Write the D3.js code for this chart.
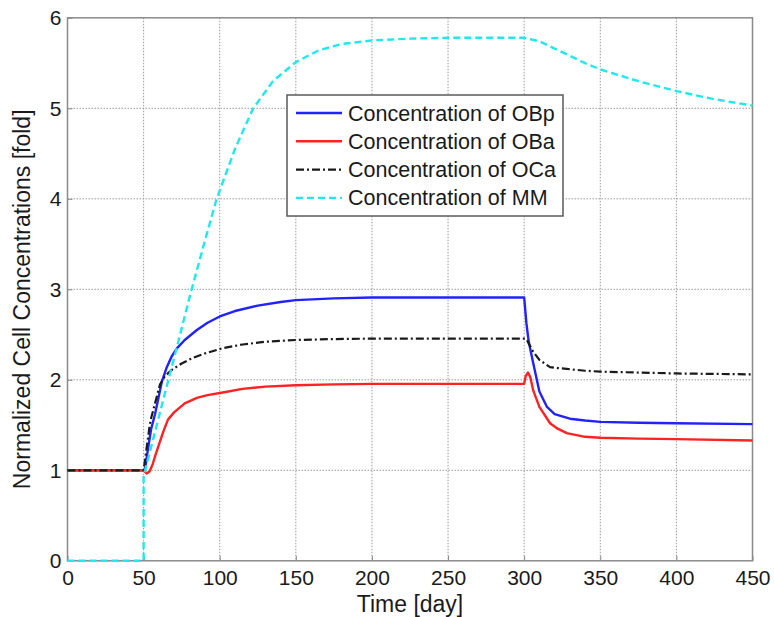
<!DOCTYPE html>
<html>
<head>
<meta charset="utf-8">
<script src="https://cdn.jsdelivr.net/npm/d3@7"></script>
<style>
  html, body { margin: 0; padding: 0; background: #fff; }
  svg { display: block; font-family: "Liberation Sans", Arial, Helvetica, sans-serif; }
</style>
</head>
<body>
<svg id="chart" width="774" height="617"></svg>
<script>
// ---- data ----
const xTicks = [0, 50, 100, 150, 200, 250, 300, 350, 400, 450];
const yTicks = [0, 1, 2, 3, 4, 5, 6];

const timeOBp = [0,50,51,53,55,57.5,60,62,65,68.5,72,77,85,92,100,110,125,140,150,175,200,300,301.5,303,306,310,315,320,330,340,350,375,400,450];
const valOBp  = [1,1,1.02,1.25,1.46,1.62,1.82,1.98,2.13,2.26,2.35,2.44,2.55,2.63,2.70,2.76,2.82,2.86,2.88,2.90,2.91,2.91,2.62,2.42,2.18,1.87,1.70,1.62,1.57,1.55,1.535,1.525,1.52,1.51];

const timeOBa = [0,50,52,54,56,58,60,63,66,70,77,85,92,102,115,130,150,175,200,300,301,302.5,304,306,310,317,322,328,340,350,375,400,450];
const valOBa  = [1,1,0.965,0.99,1.07,1.18,1.28,1.43,1.56,1.64,1.74,1.80,1.83,1.86,1.90,1.925,1.94,1.95,1.955,1.955,2.04,2.08,2.03,1.88,1.70,1.52,1.46,1.41,1.37,1.36,1.35,1.345,1.33];

const timeOCa = [0,50,51,52,53,54,55,57.5,60.8,64,68.5,75,82,90,102,115,130,150,175,200,300,301.5,303,306,310,317,322,328,340,350,375,400,450];
const valOCa  = [1,1,1.12,1.25,1.37,1.5,1.58,1.74,1.95,2.04,2.11,2.18,2.24,2.29,2.35,2.39,2.42,2.44,2.45,2.455,2.455,2.45,2.40,2.31,2.22,2.14,2.13,2.12,2.10,2.09,2.08,2.07,2.06];

const timeMM = [0,50,50,51,55,60,66,72,80,85,90,98,110,122,135,150,165,180,200,225,250,300,310,320,330,340,350,375,400,425,450];
const valMM  = [0,0,0.95,1.0,1.26,1.59,1.98,2.37,2.9,3.21,3.52,4.0,4.55,5.0,5.3,5.51,5.64,5.71,5.75,5.77,5.78,5.78,5.74,5.66,5.58,5.50,5.43,5.30,5.19,5.10,5.03];

const seriesNames = ["Concentration of OBp", "Concentration of OBa", "Concentration of OCa", "Concentration of MM"];

// ---- layout ----
const svg = d3.select("#chart");
const L = 67.5, R = 752.5, T = 17.8, B = 560.8;
const x = d3.scaleLinear().domain([0, 450]).range([L, R]);
const y = d3.scaleLinear().domain([0, 6]).range([B, T]);

const gridColor = "#9a9a9a";
const frameColor = "#8a8a8a";

// grid
const grid = svg.append("g");
grid.selectAll(".gx").data(xTicks.slice(1, -1)).join("line")
  .attr("x1", d => x(d)).attr("x2", d => x(d)).attr("y1", T).attr("y2", B)
  .attr("stroke", gridColor).attr("stroke-width", 1).attr("stroke-dasharray", "1.5,1.5");
grid.selectAll(".gy").data(yTicks.slice(1, -1)).join("line")
  .attr("x1", L).attr("x2", R).attr("y1", d => y(d)).attr("y2", d => y(d))
  .attr("stroke", gridColor).attr("stroke-width", 1).attr("stroke-dasharray", "1.5,1.5");

// axes (ticks inward)
const xAxis = svg.append("g").attr("transform", `translate(0,${B})`)
  .call(d3.axisBottom(x).tickValues(xTicks).tickSize(-5).tickPadding(9).tickFormat(d3.format("d")));
const yAxis = svg.append("g").attr("transform", `translate(${L},0)`)
  .call(d3.axisLeft(y).tickValues(yTicks).tickSize(-5).tickPadding(6).tickFormat(d3.format("d")));
[xAxis, yAxis].forEach(a => {
  a.select(".domain").remove();
  a.selectAll(".tick line").attr("stroke", frameColor);
  a.selectAll("text").attr("fill", "#1a1a1a").style("font-size", "21px");
});
xAxis.selectAll("text").attr("dy", "0.71em");

// frame
svg.append("rect").attr("x", L).attr("y", T).attr("width", R - L).attr("height", B - T)
  .attr("fill", "none").attr("stroke", frameColor).attr("stroke-width", 1.5);

// lines
const line = d3.line().x(d => x(d[0])).y(d => y(d[1]));
const zip = (a, b) => a.map((t, i) => [t, b[i]]);
const styles = [
  { data: zip(timeOBp, valOBp), color: "#2222ff", dash: null, w: 2.4 },
  { data: zip(timeOBa, valOBa), color: "#ff2222", dash: null, w: 2.4 },
  { data: zip(timeOCa, valOCa), color: "#1a1a1a", dash: "8,3,2,3", w: 2.2 },
  { data: zip(timeMM, valMM), color: "#1ee8f0", dash: "7,4", w: 2.4 }
];
const plot = svg.append("g");
styles.forEach(s => {
  plot.append("path").datum(s.data).attr("d", line)
    .attr("fill", "none").attr("stroke", s.color).attr("stroke-width", s.w)
    .attr("stroke-linejoin", "round")
    .attr("stroke-dasharray", s.dash);
});

// legend
const lg = svg.append("g");
lg.append("rect").attr("x", 287).attr("y", 95).attr("width", 276).attr("height", 121)
  .attr("fill", "#fff").attr("stroke", "#5a5a5a").attr("stroke-width", 1.5);
seriesNames.forEach((name, i) => {
  const yy = 113 + i * 28.3;
  lg.append("line").attr("x1", 296).attr("x2", 342).attr("y1", yy).attr("y2", yy)
    .attr("stroke", styles[i].color).attr("stroke-width", 2.4)
    .attr("stroke-dasharray", styles[i].dash);
  lg.append("text").attr("x", 348).attr("y", yy).attr("dy", "0.35em")
    .attr("fill", "#1a1a1a").style("font-size", "21.5px").text(name);
});

// axis titles
svg.append("text").attr("x", (L + R) / 2).attr("y", 612).attr("text-anchor", "middle")
  .attr("fill", "#1a1a1a").style("font-size", "23px").text("Time [day]");
svg.append("text").attr("transform", `translate(30,${(T + B) / 2 + 10}) rotate(-90)`)
  .attr("text-anchor", "middle").attr("fill", "#1a1a1a").style("font-size", "23px")
  .text("Normalized Cell Concentrations [fold]");
</script>
</body>
</html>
